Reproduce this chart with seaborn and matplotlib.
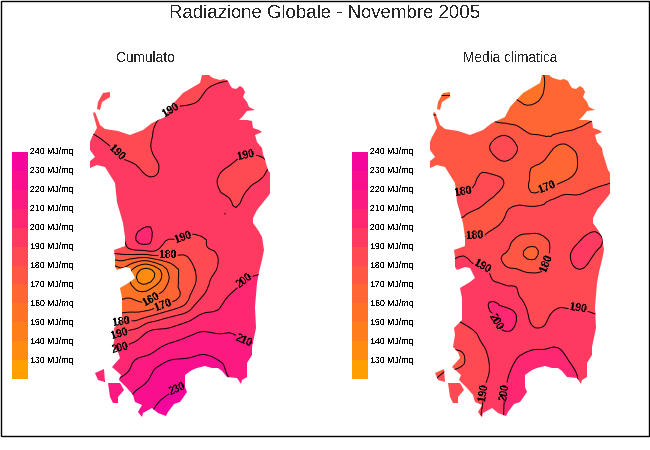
import numpy as np
import seaborn as sns
import matplotlib
matplotlib.use('Agg')
import matplotlib.pyplot as plt
from matplotlib.colors import ListedColormap, BoundaryNorm
from matplotlib.patches import PathPatch, Rectangle
from matplotlib.path import Path
from matplotlib.tri import Triangulation, UniformTriRefiner

sns.set_style('white')
plt.rcParams['font.family'] = ['Liberation Sans', 'DejaVu Sans']
plt.rcParams['text.antialiased'] = False

# scala
band_tops = [240, 230, 220, 210, 200, 190, 180, 170, 160, 150, 140, 130]
band_colors = ['#F5059B', '#F90E8E', '#FC1A80', '#FF2672', '#FF3A60', '#FF4A54',
               '#FF5744', '#FF6634', '#FF7326', '#FF7E1C', '#FF8C10', '#FF9F00']
levels = list(range(120, 250, 10))

# griglia dei campi
grid_x = [90, 105, 120, 135, 150, 165, 180, 195, 210, 225, 240, 255, 270]
grid_y = list(range(75, 435, 15))

cumulato = [
    [185, 185, 185, 185, 185, 185, 185, 185, 185, 187, 189, 190, 190],
    [185, 185, 185, 185, 185, 186, 187, 188, 191, 193, 194, 194, 194],
    [185, 185, 185, 185, 187, 188, 189.7, 190.5, 194, 195, 195, 195, 195],
    [185, 185, 185, 186, 189, 190.8, 193, 195, 195, 195, 195, 195, 195],
    [191, 188.5, 186, 186, 189.5, 192, 195, 195, 195, 195, 195, 195, 195],
    [193, 191.5, 188.5, 186.5, 189.7, 192, 195, 195, 195, 195, 192, 192, 193],
    [195, 194, 192, 190.2, 188.5, 191.5, 194, 195, 195, 191.5, 188, 187, 190],
    [195, 195, 195, 193, 191, 193, 195, 195, 193, 187, 186, 189, 193],
    [195, 195, 195, 195, 195, 195, 195, 195, 193, 190, 189, 193, 195],
    [195, 195, 195, 195, 195, 195, 195, 195, 194, 190.3, 191, 195, 195],
    [195, 195, 195, 197, 199.5, 195, 195, 195, 191, 191, 195, 195, 195],
    [185, 185, 187, 199.5, 201, 190.5, 189.7, 187, 191, 193, 196, 197, 198],
    [178, 178, 179, 179, 180, 180.5, 180, 185, 188.5, 193, 196, 198, 199],
    [160, 150, 158, 146, 138, 157, 170.5, 180, 188, 193, 197, 199, 200.5],
    [165, 165, 158, 146, 144, 158, 171, 180, 190.5, 195, 200, 202, 203],
    [165, 165, 160, 160, 159.5, 166, 172, 187, 193, 200, 202, 204, 205],
    [172, 172, 172, 173, 178, 185, 190.5, 198, 202, 204, 205, 206, 207],
    [185, 185, 187, 191, 199.5, 201, 204, 208, 209, 209, 209, 209, 209],
    [198, 198, 198, 202, 205, 210, 213, 216, 216, 214, 211, 210, 210],
    [204, 204, 205, 210, 214, 219, 220.5, 221, 221, 219, 215, 213, 212],
    [205, 207, 209, 213, 219.5, 224, 226, 226, 225, 221, 215, 213, 212],
    [210, 213, 214, 219.5, 224, 228, 230.5, 231, 230, 225, 215, 213, 212],
    [212, 215, 218, 222, 228, 232, 233, 233, 232, 226, 216, 213, 212],
    [215, 218, 222, 226, 231, 234, 235, 235, 234, 228, 218, 214, 212],
]

media_climatica = [
    [157, 157, 157, 157, 157, 157, 157, 158, 162, 165, 165, 165, 165],
    [158, 158, 158, 158, 158, 158, 158, 158, 162, 165, 165, 165, 165],
    [165, 165, 165, 165, 165, 163, 161, 160.5, 164, 166, 166, 166, 166],
    [172, 172, 172, 171, 169.7, 168, 167, 166, 166, 167, 168, 170.2, 172],
    [175, 175, 175, 175, 176, 179.7, 173.5, 170.2, 169.7, 170.5, 172, 173, 174],
    [176, 176, 176, 176, 180, 184, 179, 175, 170.5, 168.5, 171.5, 174, 175],
    [176, 176, 176, 178, 177, 178.5, 175, 170.2, 166, 165, 171, 175, 176],
    [177, 177, 178, 179.5, 183, 179.5, 174, 168, 165.5, 169.5, 173.5, 177, 179],
    [182, 182, 181, 182, 182, 178, 176, 171, 177, 180.3, 180.3, 183, 184],
    [183, 183, 183, 180, 176, 179, 182.5, 183, 183, 184, 185, 186, 186],
    [178, 178, 177, 175, 178, 181.5, 184, 184, 184, 185, 187, 188, 188],
    [182, 182, 182, 183, 182, 183, 177, 175, 181, 185, 189.8, 191.5, 188],
    [188, 188, 189.7, 188, 184, 179.5, 172, 168.5, 181, 188, 193, 189.5, 187],
    [192, 192, 192, 191, 189.2, 182, 180, 178, 183, 187, 189.8, 187, 186],
    [194, 194, 194, 194, 192, 190, 188.5, 184, 184, 185, 186, 186, 186],
    [194, 194, 195, 195, 199.5, 196, 191, 187, 186, 187, 187, 187, 187],
    [192, 192, 192, 196, 199, 204, 197, 187, 190, 192, 192, 190.3, 189],
    [188, 188, 188, 190.5, 195, 200.5, 197, 191, 193, 194, 194, 193, 192],
    [182, 182, 183, 188, 192, 196, 198, 198, 199, 198, 196, 195, 195],
    [176, 178, 178, 185, 190.5, 196, 201, 203, 203, 201, 197, 196, 196],
    [178, 181, 183, 187, 190.5, 198, 204, 205, 205, 204, 199, 197, 197],
    [180, 183, 185, 188, 192, 199.7, 205, 205, 205, 204, 199, 197, 197],
    [182, 184, 186, 188, 193, 200.5, 205, 205, 205, 204, 199, 197, 197],
    [182, 184, 186, 188, 194, 200.5, 205, 205, 205, 204, 199, 197, 197],
]

# costa (stessa sagoma per le due carte)
costa = [(198, 73), (203, 74), (208, 72), (210, 76), (213, 78), (220, 80), (224, 79), (228, 81),
         (230, 85), (232, 88), (236, 89), (240, 86), (243, 88), (245, 92), (243, 97), (247, 102),
         (249, 107), (255, 110), (247, 111), (243, 116), (239, 120), (247, 120), (252, 121),
         (253, 128), (259, 130), (262, 132), (255, 135), (257, 142), (262, 148), (263, 154),
         (265, 160), (268, 170), (273, 177), (273, 188), (269, 195), (265, 200), (257, 210),
         (253, 218), (253, 223), (258, 230), (262, 237), (264, 250), (262, 260), (259, 272),
         (257, 283), (256, 295), (255, 307), (256, 328), (252, 347), (252, 355), (247, 363),
         (247, 377), (242, 380), (241, 384), (237, 378), (227, 377), (222, 371), (218, 368),
         (212, 368), (205, 366), (197, 368), (192, 370), (185, 375), (185, 387), (187, 392),
         (180, 402), (174, 404), (168, 412), (166, 416), (158, 413), (152, 408), (143, 413),
         (142, 417), (138, 412), (142, 405), (135, 402), (133, 395), (127, 388), (122, 383),
         (119, 380), (121, 375), (112, 367), (120, 358), (118, 352), (113, 347), (115, 335),
         (114, 328), (122, 320), (122, 298), (120, 288), (130, 282), (135, 278), (130, 268),
         (125, 267), (117, 270), (115, 267), (115, 257), (114, 250), (125, 246), (125, 237),
         (123, 223), (117, 202), (115, 183), (110, 175), (105, 167), (97, 165), (90, 168),
         (89, 162), (95, 157), (88, 147), (92, 137), (97, 128), (93, 113), (95, 112), (100, 125),
         (105, 129), (118, 131), (130, 135), (143, 130), (152, 123), (165, 117), (170, 107),
         (183, 93), (200, 83), (202, 75)]
asinara = [(98, 102), (103, 93), (110, 92), (110, 97), (102, 102), (100, 110), (97, 109)]
san_pietro = [(95, 373), (104, 369), (105, 382), (98, 380)]
sant_antioco = [(108, 383), (120, 383), (124, 390), (118, 397), (118, 403), (113, 403), (110, 397)]

# etichette delle isolinee
label_cumulato = [(171, 110), (117, 153), (247, 158), (185, 240), (168, 252), (150, 298), (162, 302),
                  (122, 322), (120, 336), (121, 351), (245, 282), (243, 342), (178, 390)]
label_media = [(123, 189), (135, 232), (208, 188), (205, 262), (143, 265), (238, 310), (156, 322),
               (143, 392), (166, 392)]


def island_patch(ax, dx):
    verts, codes = [], []
    for poly in [costa, asinara, san_pietro, sant_antioco]:
        pts = [(x + dx, y) for x, y in poly]
        verts += pts + [pts[0]]
        codes += [Path.MOVETO] + [Path.LINETO] * (len(pts) - 1) + [Path.CLOSEPOLY]
    patch = PathPatch(Path(verts, codes), facecolor='none', edgecolor='none')
    ax.add_patch(patch)
    return patch


def draw_map(ax, field, dx, label_pos):
    xx, yy = np.meshgrid(np.array(grid_x) + dx, grid_y)
    tri = Triangulation(xx.ravel(), yy.ravel())
    tri_fine, z_fine = UniformTriRefiner(tri).refine_field(np.array(field, dtype=float).ravel(), subdiv=2)
    patch = island_patch(ax, dx)
    filled = ax.tricontourf(tri_fine, z_fine, levels=levels, cmap=cmap, norm=norm, extend='both', antialiased=False)
    filled.set_clip_path(patch)
    lines = ax.tricontour(tri_fine, z_fine, levels=levels, colors='black', linewidths=0.7, antialiased=True)
    lines.set_clip_path(patch)
    labels = ax.clabel(lines, fmt='%d', fontsize=7.5, inline=True, inline_spacing=1,
                       manual=[(x + dx, y) for x, y in label_pos])
    for t in labels:
        t.set_fontweight('bold')
        t.set_clip_path(patch)
        t.set_clip_on(True)


def draw_legend(fig, x0):
    ax = fig.add_axes([x0 / 650, 1 - 379 / 450, 16 / 650, 227 / 450])
    bands = np.array(band_tops).reshape(-1, 1) - 5
    sns.heatmap(bands, ax=ax, cmap=cmap, norm=norm, cbar=False, xticklabels=False, yticklabels=False)
    for i, top in enumerate(band_tops):
        ax.text(1.12, i, f'{top} MJ/mq', fontsize=6.3, va='center', ha='left', color='black', clip_on=False)


cmap = ListedColormap(band_colors[::-1])
cmap.set_under(band_colors[-1])
cmap.set_over(band_colors[0])
norm = BoundaryNorm(levels, cmap.N)

fig = plt.figure(figsize=(6.5, 4.5), dpi=100)
ax = fig.add_axes([0, 0, 1, 1])
ax.set_xlim(0, 650)
ax.set_ylim(450, 0)
ax.axis('off')

ax.add_patch(Rectangle((0.5, 0.5), 648, 435, fill=False, edgecolor='black', linewidth=1))
ax.text(325, 14, 'Radiazione Globale - Novembre 2005', fontsize=13.4, ha='center', va='center')
ax.text(146, 58, 'Cumulato', fontsize=9.8, ha='center', va='center')
ax.text(510, 58, 'Media climatica', fontsize=9.8, ha='center', va='center')

draw_map(ax, cumulato, 0, label_cumulato)
draw_map(ax, media_climatica, 340, label_media)

draw_legend(fig, 12)
draw_legend(fig, 352)

fig.savefig('out.png', dpi=100)
